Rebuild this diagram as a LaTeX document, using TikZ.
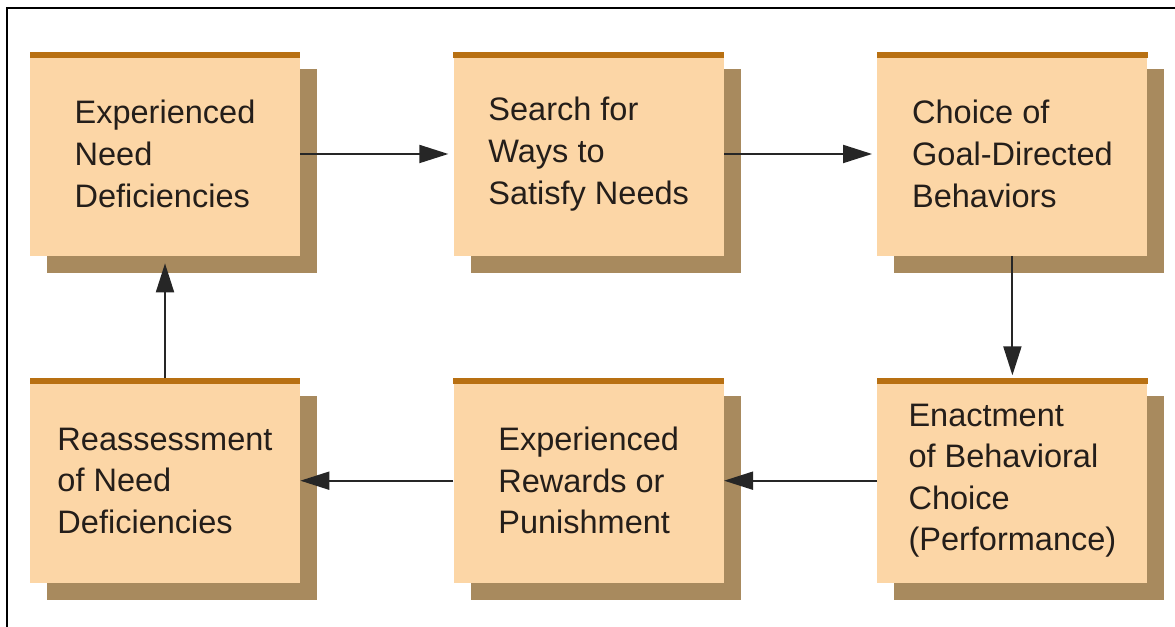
\documentclass[tikz,border=0pt]{standalone}
\usepackage{fontspec}
\setmainfont{Liberation Sans}
\usepackage{xcolor}
\usepackage{tikz}
\usetikzlibrary{arrows.meta, shadows, positioning}
\definecolor{boxpeach}{RGB}{252,214,166}
\definecolor{boxshadow}{RGB}{168,138,94}
\definecolor{boxbar}{RGB}{184,112,18}
\definecolor{textdark}{RGB}{36,30,26}

\begin{document}
\begin{tikzpicture}[
    stage/.style={rectangle, fill=boxpeach, minimum width=5.4cm, minimum height=4.08cm, inner sep=2pt,
        align=left, text=textdark, font=\fontsize{18.5}{23.7}\selectfont,
        drop shadow={shadow xshift=0.34cm, shadow yshift=-0.34cm, fill=boxshadow, opacity=1}},
    arrow/.style={-{Triangle[length=0.58cm, width=0.36cm]}, line width=1.1pt, draw=black!85}
]
    \useasboundingbox (0, 0) rectangle (23.5, 12.54);

    % Frame
    \draw[line width=1.2pt] (0.14, 0) -- (0.14, 12.38) -- (23.5, 12.38);

    % Top row
    \node[stage] (need) at (3.3, 9.46) {Experienced\\Need\\Deficiencies};
    \node[stage, right=3.06cm of need] (search) {Search for\\Ways to\\Satisfy Needs};
    \node[stage, right=3.06cm of search] (choice) {Choice of\\Goal-Directed\\Behaviors};

    % Bottom row
    \node[stage, below=2.44cm of choice] (enact) {Enactment\\of Behavioral\\Choice\\(Performance)};
    \node[stage, left=3.06cm of enact] (reward) {Experienced\\Rewards or\\Punishment};
    \node[stage, left=3.06cm of reward] (reassess) {Reassessment\\of Need\\Deficiencies};

    % Top bars
    \foreach \n in {need, search, choice, enact, reward, reassess}
        \fill[boxbar] (\n.north west) rectangle ([yshift=-0.12cm]\n.north east);

    % Arrows
    \draw[arrow, shorten >=0.1cm] (need) -- (search);
    \draw[arrow, shorten >=0.1cm] (search) -- (choice);
    \draw[arrow, shorten >=0.06cm] (choice) -- (enact);
    \draw[arrow] (enact) -- (reward);
    \draw[arrow] (reward) -- (reassess);
    \draw[arrow, shorten >=0.14cm] (reassess) -- (need);
\end{tikzpicture}
\end{document}
